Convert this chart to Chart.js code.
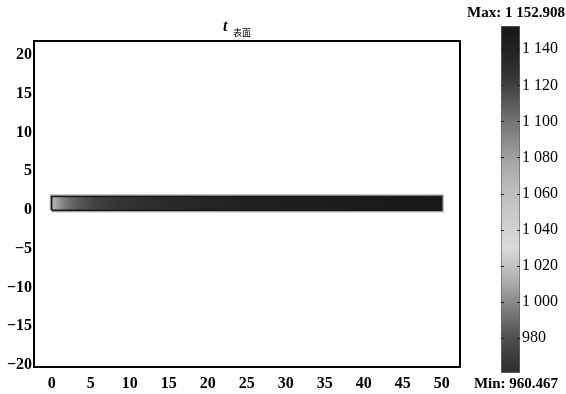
<!DOCTYPE html>
<html>
<head>
<meta charset="utf-8">
<script src="https://cdn.jsdelivr.net/npm/chart.js@4.4.1/dist/chart.umd.min.js"></script>
<style>
  html, body { margin: 0; padding: 0; background: #fff; overflow: hidden; }
  #plot { position: absolute; left: 0; top: 0; }
  #cbar { position: absolute; left: 460px; top: 0; }
</style>
</head>
<body>
<canvas id="plot" width="566" height="394"></canvas>
<canvas id="cbar" width="106" height="394"></canvas>
<script>
// temperature along the bar (x in model units, t values)
const profileX = [0, 0.3, 0.8, 1.3, 2.3, 3.6, 5.5, 8.7, 12.6, 18, 25, 38, 50];
const profileT = [1060, 1070, 1082, 1091, 1103, 1112, 1119, 1126, 1131, 1137, 1142, 1148, 1151];
const barBottom = -0.05;
const barTop = 1.75;

// colour table of the legend (level -> gray)
const cmapLevels = [960.467, 970, 980, 990, 1000, 1010, 1020, 1030, 1040, 1050, 1060, 1070, 1080, 1090, 1100, 1110, 1120, 1130, 1140, 1152.908];
const cmapGray   = [46, 60, 80, 108, 138, 170, 195, 218, 210, 200, 190, 178, 160, 138, 116, 90, 64, 46, 34, 22];
const tMin = 960.467;
const tMax = 1152.908;

const serif = '"Liberation Serif", "Times New Roman", serif';

function grayFor(t) {
    if (t <= cmapLevels[0]) return 'rgb(' + cmapGray[0] + ',' + cmapGray[0] + ',' + cmapGray[0] + ')';
    for (let i = 1; i < cmapLevels.length; i++) {
        if (t <= cmapLevels[i]) {
            const f = (t - cmapLevels[i - 1]) / (cmapLevels[i] - cmapLevels[i - 1]);
            const g = Math.round(cmapGray[i - 1] + f * (cmapGray[i] - cmapGray[i - 1]));
            return 'rgb(' + g + ',' + g + ',' + g + ')';
        }
    }
    const g = cmapGray[cmapGray.length - 1];
    return 'rgb(' + g + ',' + g + ',' + g + ')';
}

function minus(v) {
    return String(v).replace('-', '\u2212');
}

function thousands(v) {
    if (v >= 1000) return Math.floor(v / 1000) + ' ' + String(Math.round(v % 1000)).padStart(3, '0');
    return String(v);
}

const x0 = profileX[0];
const x1 = profileX[profileX.length - 1];
const rect = [
    {x: x0, y: barBottom}, {x: x0, y: barTop}, {x: x1, y: barTop},
    {x: x1, y: barBottom}, {x: x0, y: barBottom}
];

// frame + title
const framePlugin = {
    id: 'frame',
    afterDraw(chart) {
        const {ctx, chartArea: a} = chart;
        ctx.save();
        ctx.strokeStyle = '#000';
        ctx.lineWidth = 2;
        ctx.strokeRect(a.left, a.top, a.right - a.left, a.bottom - a.top);
        const cx = (a.left + a.right) / 2;
        ctx.fillStyle = '#000';
        ctx.textBaseline = 'alphabetic';
        ctx.font = 'italic bold 16px ' + serif;
        ctx.fillText('t', cx - 24, 31);
        ctx.font = '9px "Noto Sans CJK SC"';
        ctx.fillText('表面', cx - 14, 36);
        ctx.restore();
    }
};

new Chart(document.getElementById('plot'), {
    type: 'scatter',
    data: {
        datasets: [
            {
                data: rect, showLine: true, borderColor: '#9c9c9c', borderWidth: 4,
                pointRadius: 0, fill: false, order: 3
            },
            {
                data: [{x: x0, y: barTop}, {x: x1, y: barTop}],
                showLine: true, borderWidth: 0, pointRadius: 0,
                fill: {value: barBottom},
                backgroundColor: function (c) {
                    const chart = c.chart;
                    if (!chart.chartArea) return '#222';
                    const px0 = chart.scales.x.getPixelForValue(x0);
                    const px1 = chart.scales.x.getPixelForValue(x1);
                    const g = chart.ctx.createLinearGradient(px0, 0, px1, 0);
                    profileX.forEach((x, i) => g.addColorStop((x - x0) / (x1 - x0), grayFor(profileT[i])));
                    return g;
                },
                order: 2
            },
            {
                data: rect, showLine: true, borderColor: '#1a1a1a', borderWidth: 1.5,
                pointRadius: 0, fill: false, order: 1
            }
        ]
    },
    options: {
        responsive: false,
        animation: false,
        events: [],
        layout: { padding: { top: 41, right: 106, left: 0, bottom: 0 } },
        plugins: {
            legend: { display: false },
            tooltip: { enabled: false }
        },
        scales: {
            x: {
                type: 'linear',
                min: -2.27,
                max: 52.35,
                afterFit: s => { s.height = 27; },
                grid: { display: false, drawTicks: false },
                border: { display: false },
                ticks: {
                    stepSize: 5, includeBounds: false, padding: 7, color: '#000',
                    maxRotation: 0, autoSkip: false,
                    font: { family: serif, size: 16, weight: 'bold' },
                    callback: v => minus(v)
                }
            },
            y: {
                type: 'linear',
                min: -20.26,
                max: 21.8,
                afterFit: s => { s.width = 34; },
                grid: { display: false, drawTicks: false },
                border: { display: false },
                ticks: {
                    stepSize: 5, includeBounds: false, padding: 2, color: '#000',
                    autoSkip: false,
                    font: { family: serif, size: 16, weight: 'bold' },
                    callback: v => minus(v)
                }
            }
        }
    },
    plugins: [framePlugin]
});

// small tick marks inside the legend bar, plus the Max / Min captions
const cbExtras = {
    id: 'cbExtras',
    afterDatasetsDraw(chart) {
        const {ctx, chartArea: a, scales} = chart;
        ctx.save();
        ctx.strokeStyle = '#222';
        ctx.lineWidth = 1;
        scales.y.ticks.forEach(t => {
            const y = Math.round(scales.y.getPixelForValue(t.value)) + 0.5;
            ctx.beginPath();
            ctx.moveTo(a.left, y); ctx.lineTo(a.left + 3, y);
            ctx.moveTo(a.right - 3, y); ctx.lineTo(a.right, y);
            ctx.stroke();
        });
        ctx.fillStyle = '#000';
        ctx.font = 'bold 15px ' + serif;
        ctx.textAlign = 'center';
        ctx.textBaseline = 'middle';
        const maxText = 'Max: ' + thousands(Math.floor(tMax)) + '.' + tMax.toFixed(3).split('.')[1];
        const minText = 'Min: ' + tMin.toFixed(3);
        ctx.fillText(maxText, 56, 13);
        ctx.fillText(minText, 56, 384);
        ctx.restore();
    }
};

new Chart(document.getElementById('cbar'), {
    type: 'bar',
    data: {
        labels: [''],
        datasets: [{
            data: [[tMin, tMax]],
            barPercentage: 1,
            categoryPercentage: 1,
            borderColor: '#666',
            borderWidth: 1,
            borderSkipped: false,
            backgroundColor: function (c) {
                const chart = c.chart;
                if (!chart.chartArea) return '#888';
                const y = chart.scales.y;
                const g = chart.ctx.createLinearGradient(0, y.getPixelForValue(tMin), 0, y.getPixelForValue(tMax));
                cmapLevels.forEach((lv, i) => {
                    const k = cmapGray[i];
                    g.addColorStop((lv - tMin) / (tMax - tMin), 'rgb(' + k + ',' + k + ',' + k + ')');
                });
                return g;
            }
        }]
    },
    options: {
        responsive: false,
        animation: false,
        events: [],
        layout: { padding: { left: 41, right: 0, top: 26, bottom: 21 } },
        plugins: {
            legend: { display: false },
            tooltip: { enabled: false }
        },
        scales: {
            x: { display: false },
            y: {
                position: 'right',
                min: tMin,
                max: tMax,
                afterFit: s => { s.width = 46; },
                grid: { display: false, drawTicks: false },
                border: { display: false },
                ticks: {
                    stepSize: 20, includeBounds: false, padding: 2, color: '#000',
                    autoSkip: false,
                    font: { family: serif, size: 16 },
                    callback: v => thousands(v)
                }
            }
        }
    },
    plugins: [cbExtras]
});
</script>
</body>
</html>
